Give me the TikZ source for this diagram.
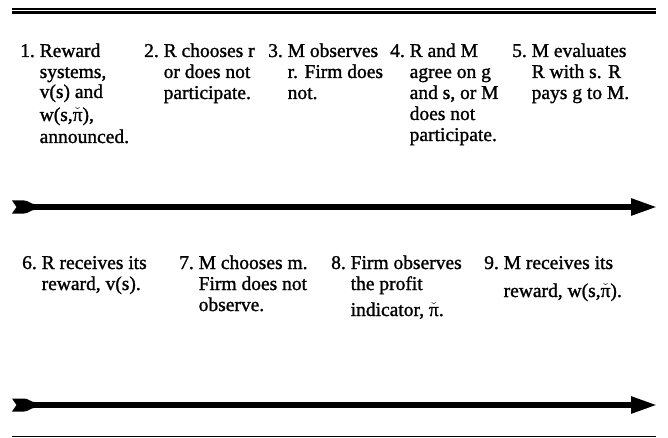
\documentclass[tikz,border=0pt]{standalone}
\usepackage{fontspec}
\setmainfont{Liberation Serif}[BoldFont={Liberation Serif},BoldFeatures={FakeBold=1.3}]
\usetikzlibrary{arrows.meta}
\newcommand\pich{\ensuremath{\check{\mbox{π}}}}
\tikzset{
  item/.style={anchor=base west, inner sep=0pt, font=\fontsize{19.5}{21}\selectfont\bfseries},
  timeline/.style={line width=5.5pt, -{Triangle[length=26pt,width=16pt]}},
  thinrule/.style={line width=1.3pt},
  thickrule/.style={line width=3pt},
  tailshape/.pic={\fill (0,-6.5) -- (4.5,0) -- (0,6.5) -- (12,6.5)
     .. controls (17,6.5) and (18,2.75) .. (24,2.75) -- (24,-2.75)
     .. controls (18,-2.75) and (17,-6.5) .. (12,-6.5) -- cycle;}
}
\begin{document}
\begin{tikzpicture}[x=1pt,y=-1pt]
\useasboundingbox (0,0) rectangle (668,438);
% rules
\coordinate (t1l) at (12,9); \coordinate (t1r) at (656,9);
\coordinate (t2l) at (12,12.5); \coordinate (t2r) at (656,12.5);
\coordinate (bl) at (12,436.5); \coordinate (br) at (656,436.5);
\draw[thinrule] (t1l) -- (t1r);
\draw[thickrule] (t2l) -- (t2r);
\draw[thinrule] (bl) -- (br);
% top row
\node[item] (e1) at (20,57) {\begin{tabular}[t]{@{}l@{\ }l@{}}1. & Reward\\ & systems,\\[-1pt] & v(s) and\\[2pt] & w(s,\pich),\\[1pt] & announced.\end{tabular}};
\node[item] (e2) at (144,57) {\begin{tabular}[t]{@{}l@{\ }l@{}}2. & R chooses r\\ & or does not\\ & participate.\end{tabular}};
\node[item] (e3) at (268,57) {\begin{tabular}[t]{@{}l@{\ }l@{}}3. & M observes\\ & r. Firm does\\ & not.\end{tabular}};
\node[item] (e4) at (390,57) {\begin{tabular}[t]{@{}l@{\ }l@{}}4. & R and M\\ & agree on g\\ & and s, or M\\ & does not\\ & participate.\end{tabular}};
\node[item] (e5) at (512,57) {\begin{tabular}[t]{@{}l@{\ }l@{}}5. & M evaluates\\ & R with s. R\\ & pays g to M.\end{tabular}};
% first timeline
\coordinate (a1s) at (12,207); \coordinate (a1e) at (657,207);
\pic at (a1s) {tailshape};
\draw[timeline] ([xshift=20pt]a1s) -- (a1e);
% second row
\node[item] (e6) at (22,269) {\begin{tabular}[t]{@{}l@{\ }l@{}}6. & R receives its\\ & reward, v(s).\end{tabular}};
\node[item] (e7) at (179,269) {\begin{tabular}[t]{@{}l@{\ }l@{}}7. & M chooses m.\\ & Firm does not\\ & observe.\end{tabular}};
\node[item] (e8) at (331,269) {\begin{tabular}[t]{@{}l@{\ }l@{}}8. & Firm observes\\ & the profit\\[5pt] & indicator, \pich.\end{tabular}};
\node[item] (e9) at (484,269) {\begin{tabular}[t]{@{}l@{\ }l@{}}9. & M receives its\\[7pt] & reward, w(s,\pich).\end{tabular}};
% second timeline
\coordinate (a2s) at (12,405); \coordinate (a2e) at (657,405);
\pic at (a2s) {tailshape};
\draw[timeline] ([xshift=20pt]a2s) -- (a2e);
\end{tikzpicture}
\end{document}
